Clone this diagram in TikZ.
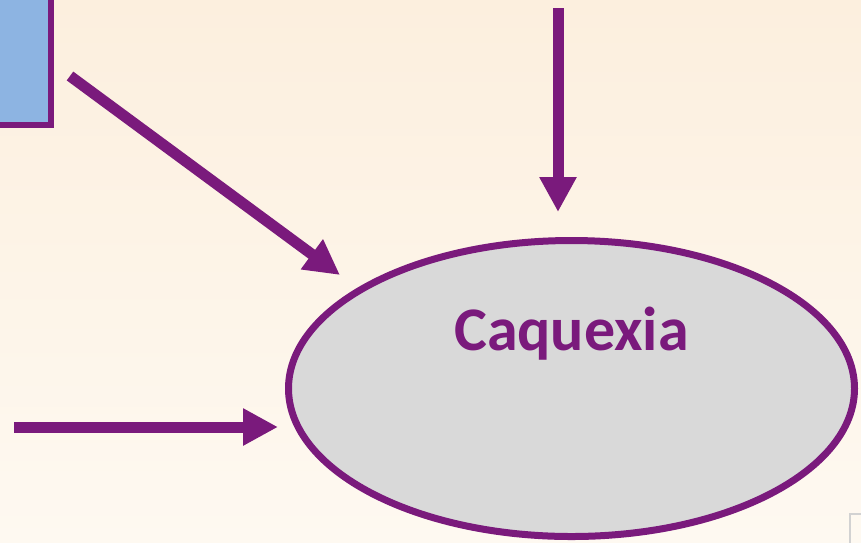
\documentclass[tikz,border=0pt]{standalone}
\usepackage{fontspec}
\setmainfont{Carlito}
\usetikzlibrary{arrows.meta,shapes.geometric}
\definecolor{purp}{HTML}{7A1A7C}
\definecolor{boxblue}{HTML}{8DB4E2}
\definecolor{ellgray}{HTML}{D9D9D9}
\definecolor{bgtop}{HTML}{FCEFDE}
\definecolor{bgbot}{HTML}{FEF9F1}
\tikzset{
  bigarrow/.style={draw=purp, line width=11pt, -{Triangle[width=35pt,length=35pt]}},
  ellnode/.style={ellipse, draw=purp, line width=7pt, fill=ellgray, inner sep=0pt, minimum width=566pt, minimum height=296pt},
  bluebox/.style={draw=purp, line width=6pt, fill=boxblue, inner sep=0pt, outer sep=0pt, minimum width=250pt, minimum height=250pt},
  caqtext/.style={text=purp, font=\bfseries\fontsize{62}{66}\selectfont, inner sep=0pt}
}
\begin{document}
\begin{tikzpicture}[x=1pt,y=-1pt]
\useasboundingbox (0,0) rectangle (861,542);
\clip (0,0) rectangle (861,542);
\shade[top color=bgtop, bottom color=bgbot] (0,0) rectangle (861,542);
% partially visible box
\node[bluebox, anchor=south east] (box) at (51,125) {};
% ellipse
\node[ellnode] (ell) at (571.5,388.5) {};
\node[caqtext] (caq) at (571.5,333.5) {Caquexia};
% arrow endpoints
\coordinate (diagtail) at (70,76);
\coordinate (diagtip) at (340,275);
\coordinate (vtail) at (558,8);
\coordinate (vtip) at (558,212);
\coordinate (htail) at (14,427);
\coordinate (htip) at (278,427);
\draw[bigarrow] (diagtail) -- (diagtip);
\draw[bigarrow] (vtail) -- (vtip);
\draw[bigarrow] (htail) -- (htip);
% faint corner icon
\node[draw=gray!35, line width=1.5pt, inner sep=0pt, minimum width=24pt, minimum height=34pt, anchor=north west] (icon) at (849,513) {};
\end{tikzpicture}
\end{document}
